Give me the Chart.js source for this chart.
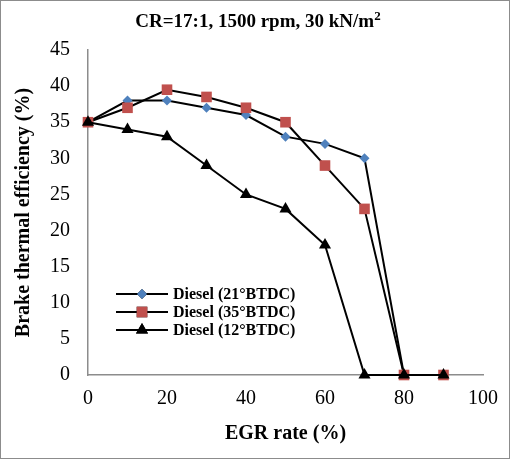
<!DOCTYPE html>
<html>
<head>
<meta charset="utf-8">
<script src="https://cdn.jsdelivr.net/npm/chart.js@4"></script>
<style>
  html, body { margin: 0; padding: 0; background: #fff; }
  #wrap { width: 510px; height: 459px; }
</style>
</head>
<body>
<div id="wrap"><canvas id="chart" width="510" height="459"></canvas></div>
<script>
// EGR rate (%)
const egrRate = [0, 10, 20, 30, 40, 50, 60, 70, 80, 90];
// brake thermal efficiency (%)
const diesel21 = [35, 38, 38, 37, 36, 33, 32, 30, 0, 0];
const diesel35 = [35, 37, 39.5, 38.5, 37, 35, 29, 23, 0, 0];
const diesel12 = [35, 34, 33, 29, 25, 23, 18, 0, 0, 0];
const seriesNames = ["Diesel (21°BTDC)", "Diesel (35°BTDC)", "Diesel (12°BTDC)"];
const titleText = "CR=17:1, 1500 rpm, 30 kN/m";

const serif = "'Liberation Serif', 'Times New Roman', serif";

function pts(ys) {
    return egrRate.map((x, i) => ({ x: x, y: ys[i] }));
}

const styles = [
    { pointStyle: "rectRot", radius: 5, color: "#4F81BD" },
    { pointStyle: "rect", radius: 7.5, color: "#C0504D" },
    { pointStyle: "triangle", radius: 7, color: "#000000" }
];

// title, legend and frame
const extras = {
    id: "extras",
    afterDraw(chart) {
        const ctx = chart.ctx;
        ctx.save();
        ctx.strokeStyle = "#8c8c8c";
        ctx.lineWidth = 1;
        ctx.strokeRect(0.5, 0.5, 509, 458);

        ctx.fillStyle = "#000";
        ctx.textBaseline = "alphabetic";
        ctx.textAlign = "left";
        ctx.font = "bold 19px " + serif;
        const tw = ctx.measureText(titleText).width;
        ctx.font = "bold 13px " + serif;
        const sw = ctx.measureText("2").width;
        const tx = 258 - (tw + sw) / 2;
        ctx.font = "bold 19px " + serif;
        ctx.fillText(titleText, tx, 27);
        ctx.font = "bold 13px " + serif;
        ctx.fillText("2", tx + tw, 20);

        // legend
        const rows = [294, 312, 330];
        ctx.textBaseline = "middle";
        rows.forEach((y, i) => {
            ctx.strokeStyle = "#000";
            ctx.lineWidth = 2;
            ctx.beginPath();
            ctx.moveTo(116, y);
            ctx.lineTo(168, y);
            ctx.stroke();
            const st = styles[i];
            Chart.helpers.drawPoint(ctx, {
                pointStyle: st.pointStyle, radius: st.radius, rotation: 0, borderWidth: 0
            }, 142, y);
            ctx.fillStyle = st.color;
            ctx.fill();
            ctx.fillStyle = "#000";
            ctx.font = "bold 16px " + serif;
            ctx.fillText(seriesNames[i], 173, y + 1);
        });
        ctx.restore();
    }
};

function makeSet(label, ys, st, order) {
    return {
        label: label,
        data: pts(ys),
        borderColor: "#000",
        borderWidth: 2,
        pointStyle: st.pointStyle,
        pointRadius: st.radius,
        pointHoverRadius: st.radius,
        pointBackgroundColor: st.color,
        pointBorderColor: st.color,
        pointBorderWidth: 0,
        tension: 0,
        clip: false,
        order: order
    };
}

new Chart(document.getElementById("chart"), {
    type: "line",
    data: {
        datasets: [
            makeSet(seriesNames[0], diesel21, styles[0], 3),
            makeSet(seriesNames[1], diesel35, styles[1], 2),
            makeSet(seriesNames[2], diesel12, styles[2], 1)
        ]
    },
    options: {
        responsive: false,
        animation: false,
        layout: { padding: { top: 50, left: 8, right: 26, bottom: 9 } },
        plugins: {
            legend: { display: false },
            title: { display: false },
            tooltip: { enabled: false }
        },
        scales: {
            x: {
                type: "linear",
                min: 0, max: 100,
                ticks: { stepSize: 20, color: "#000", font: { family: serif, size: 20 }, padding: 12, maxRotation: 0 },
                grid: { display: false, drawTicks: false },
                border: { color: "#8c8c8c", width: 1.5 },
                title: { display: true, text: "EGR rate (%)", color: "#000", font: { family: serif, size: 20, weight: "bold" }, padding: { top: 4 } },
                afterFit: s => { s.height = 75; }
            },
            y: {
                min: 0, max: 45,
                ticks: { stepSize: 5, color: "#000", font: { family: serif, size: 20 }, padding: 18 },
                grid: { display: false, drawTicks: false },
                border: { color: "#8c8c8c", width: 1.5 },
                title: { display: true, text: "Brake thermal efficiency (%)", color: "#000", font: { family: serif, size: 20, weight: "bold" }, padding: { bottom: 4 } },
                afterFit: s => { s.width = 80; }
            }
        }
    },
    plugins: [extras]
});
</script>
</body>
</html>
